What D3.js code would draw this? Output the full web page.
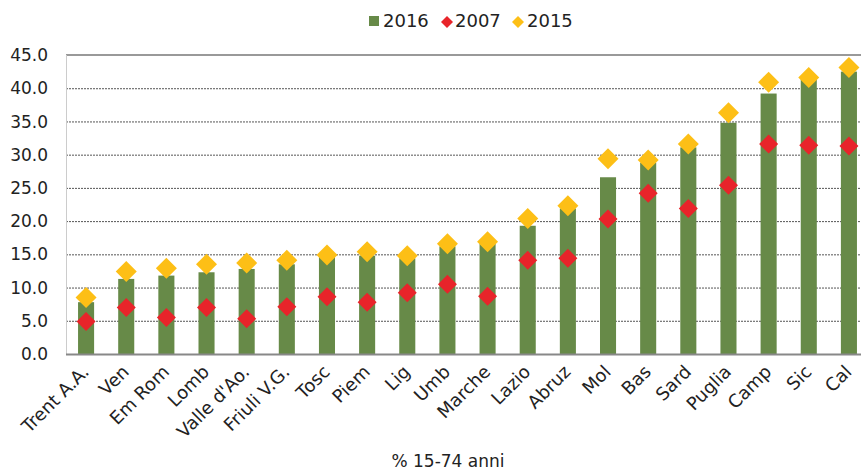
<!DOCTYPE html>
<html>
<head>
<meta charset="utf-8">
<script src="https://cdn.jsdelivr.net/npm/d3@7"></script>
<style>
  body { margin: 0; background: #fff; }
  svg { display: block; font-family: "DejaVu Sans", sans-serif; }
</style>
</head>
<body>
<div id="chart"></div>
<script>
const regions = ["Trent A.A.", "Ven", "Em Rom", "Lomb", "Valle d'Ao.", "Friuli V.G.", "Tosc", "Piem", "Lig", "Umb",
    "Marche", "Lazio", "Abruz", "Mol", "Bas", "Sard", "Puglia", "Camp", "Sic", "Cal"];
const values2016 = [7.8, 11.3, 11.8, 12.3, 12.8, 13.5, 14.6, 14.8, 14.4, 16.2,
    16.6, 19.3, 21.9, 26.6, 28.8, 31.1, 34.8, 39.2, 41.4, 42.5];
const values2007 = [4.9, 7.0, 5.5, 7.0, 5.3, 7.1, 8.6, 7.8, 9.2, 10.5,
    8.7, 14.1, 14.4, 20.3, 24.2, 21.9, 25.4, 31.6, 31.4, 31.3];
const values2015 = [8.5, 12.4, 12.9, 13.5, 13.7, 14.1, 14.9, 15.4, 14.8, 16.6,
    16.9, 20.4, 22.3, 29.4, 29.2, 31.6, 36.3, 40.9, 41.6, 43.1];
const yTicks = [0, 5, 10, 15, 20, 25, 30, 35, 40, 45];

const width = 861, height = 470;
const margin = { left: 66, top: 55, bottom: 116 };

const svg = d3.select("#chart").append("svg")
    .attr("width", width)
    .attr("height", height)
    .attr("viewBox", [0, 0, width, height]);

const x = d3.scaleBand()
    .domain(regions)
    .range([margin.left, margin.left + 20 * 40.15])
    .paddingInner(0.6)
    .paddingOuter(0.3);

const y = d3.scaleLinear()
    .domain([0, 45])
    .range([height - margin.bottom, margin.top]);

// Grid lines (dotted)
svg.append("g").attr("class", "grid")
    .selectAll("line")
    .data(yTicks.filter(d => d > 0 && d < 45))
    .join("line")
    .attr("x1", margin.left).attr("x2", width)
    .attr("y1", d => y(d) + 0.5).attr("y2", d => y(d) + 0.5)
    .attr("stroke", "#555")
    .attr("stroke-width", 1)
    .attr("stroke-dasharray", "2,1");

// top line
svg.append("line")
    .attr("x1", margin.left).attr("x2", width)
    .attr("y1", y(45)).attr("y2", y(45))
    .attr("stroke", "#999").attr("stroke-width", 2);

// left axis line
svg.append("line")
    .attr("x1", margin.left + 0.5).attr("x2", margin.left + 0.5)
    .attr("y1", y(45)).attr("y2", y(0))
    .attr("stroke", "#ccc").attr("stroke-width", 1);

// Y labels
svg.append("g")
    .selectAll("text")
    .data(yTicks)
    .join("text")
    .attr("x", 48)
    .attr("y", d => y(d))
    .attr("dy", "0.36em")
    .attr("text-anchor", "end")
    .attr("font-size", 17)
    .attr("fill", "#222")
    .text(d => d.toFixed(1));

// Bars
svg.append("g")
    .selectAll("rect")
    .data(regions)
    .join("rect")
    .attr("x", d => x(d))
    .attr("width", x.bandwidth())
    .attr("y", (d, i) => y(values2016[i]))
    .attr("height", (d, i) => y(0) - y(values2016[i]))
    .attr("fill", "#678a48");

// bottom axis line
svg.append("line")
    .attr("x1", margin.left).attr("x2", width)
    .attr("y1", y(0) + 0.5).attr("y2", y(0) + 0.5)
    .attr("stroke", "#888").attr("stroke-width", 2);

const diamond = s => `M0,${-s}L${s},0L0,${s}L${-s},0Z`;

// 2007 markers
svg.append("g")
    .selectAll("path")
    .data(regions)
    .join("path")
    .attr("d", diamond(9.5))
    .attr("transform", (d, i) => `translate(${x(d) + x.bandwidth() / 2},${y(values2007[i])})`)
    .attr("fill", "#e8242a");

// 2015 markers
svg.append("g")
    .selectAll("path")
    .data(regions)
    .join("path")
    .attr("d", diamond(10.5))
    .attr("transform", (d, i) => `translate(${x(d) + x.bandwidth() / 2},${y(values2015[i])})`)
    .attr("fill", "#fdbf16");

// X labels
svg.append("g")
    .selectAll("text")
    .data(regions)
    .join("text")
    .attr("transform", d => `translate(${x(d) + x.bandwidth() / 2 - 5},${y(0) + 10}) rotate(-45)`)
    .attr("text-anchor", "end")
    .attr("dy", "0.7em")
    .attr("font-size", 18)
    .attr("fill", "#222")
    .text(d => d);

// axis title
svg.append("text")
    .attr("x", 448)
    .attr("y", 467)
    .attr("text-anchor", "middle")
    .attr("font-size", 17)
    .attr("fill", "#222")
    .text("% 15-74 anni");

// Legend
const legend = svg.append("g").attr("font-size", 18).attr("fill", "#222");
legend.append("rect").attr("x", 369).attr("y", 16).attr("width", 10).attr("height", 10).attr("fill", "#678a48");
legend.append("text").attr("x", 383).attr("y", 21).attr("dy", "0.36em").text("2016");
legend.append("path").attr("d", diamond(6)).attr("transform", "translate(447,22)").attr("fill", "#e8242a");
legend.append("text").attr("x", 455).attr("y", 21).attr("dy", "0.36em").text("2007");
legend.append("path").attr("d", diamond(6)).attr("transform", "translate(518,22)").attr("fill", "#fdbf16");
legend.append("text").attr("x", 527).attr("y", 21).attr("dy", "0.36em").text("2015");
</script>
</body>
</html>
